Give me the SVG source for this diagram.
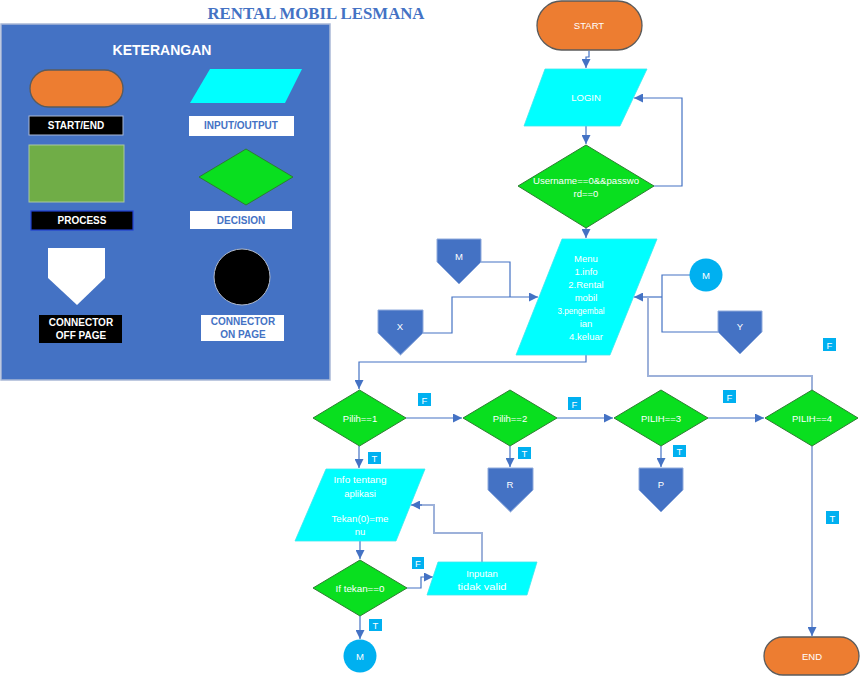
<svg xmlns="http://www.w3.org/2000/svg" width="861" height="676" viewBox="0 0 861 676">
<defs>
<marker id="ah" viewBox="0 0 10 10" refX="10" refY="5" markerWidth="9" markerHeight="9" markerUnits="userSpaceOnUse" orient="auto"><path d="M0,0 L10,5 L0,10 Z" fill="#4472C4"/></marker>
<style>
.t{font-family:"Liberation Sans",Arial,sans-serif;font-size:9.5px;fill:#fff;text-anchor:middle}
.lg{font-family:"Liberation Sans",Arial,sans-serif;font-size:10px;font-weight:bold;text-anchor:middle}
.term{fill:#ED7D31;stroke:#5B5B5B;stroke-width:1.3}
.io{fill:#00FFFF;stroke:#3FE6EE;stroke-width:0.8}
.dec{fill:#09DF1F;stroke:#2E7D32;stroke-width:1}
.off{fill:#4472C4;stroke:#8FAADC;stroke-width:1}
.on{fill:#00B0F0}
.lab{fill:#00B0F0}
.c{fill:none;stroke:#4472C4;stroke-width:1.2}
.cl{fill:none;stroke:#9DB1DA;stroke-width:2}
</style>
</defs>
<rect width="861" height="676" fill="#fff"/>
<text x="316" y="19" font-family="'Liberation Serif','Times New Roman',serif" font-size="16" font-weight="bold" fill="#4472C4" text-anchor="middle" textLength="217" lengthAdjust="spacingAndGlyphs">RENTAL MOBIL LESMANA</text>

<g id="legend">
<rect x="1" y="24" width="329" height="356" fill="#4472C4" stroke="#A9B8D6" stroke-width="1.5"/>
<text x="162" y="55" font-family="'Liberation Sans',Arial,sans-serif" font-size="14" font-weight="bold" fill="#fff" text-anchor="middle">KETERANGAN</text>
<rect x="30" y="70" width="93" height="37" rx="18.5" class="term"/>
<rect x="29" y="116" width="94" height="19" fill="#000" stroke="#A9B8D6" stroke-width="1"/>
<text x="76" y="129" class="lg" fill="#fff">START/END</text>
<polygon points="210,69 302,69 285,103 190,103" fill="#00FFFF"/>
<rect x="189" y="116" width="105" height="20" fill="#fff"/>
<text x="241" y="129" class="lg" fill="#4472C4">INPUT/OUTPUT</text>
<rect x="29" y="145" width="95" height="57" fill="#70AD47" stroke="#A9C8A0" stroke-width="1"/>
<rect x="31" y="211" width="102" height="19" fill="#000" stroke="#2040D0" stroke-width="1.2"/>
<text x="82" y="224" class="lg" fill="#fff">PROCESS</text>
<polygon points="246,149 293,177 246,205 199,177" class="dec"/>
<rect x="190" y="211" width="102" height="18" fill="#fff"/>
<text x="241" y="224" class="lg" fill="#4472C4">DECISION</text>
<path d="M48,248 H105 V278 L77,305 L48,278 Z" fill="#fff"/>
<rect x="39" y="315" width="83" height="28" fill="#000"/>
<text x="81" y="326" class="lg" fill="#fff">CONNECTOR</text>
<text x="81" y="339" class="lg" fill="#fff">OFF PAGE</text>
<circle cx="242" cy="277" r="28" fill="#000" stroke="#B0B8C8" stroke-width="1"/>
<rect x="201" y="315" width="83" height="26" fill="#fff"/>
<text x="243" y="325" class="lg" fill="#4472C4">CONNECTOR</text>
<text x="243" y="338" class="lg" fill="#4472C4">ON PAGE</text>
</g>

<g id="connectors">
<path class="c" d="M589,51 V57 H586 V68" marker-end="url(#ah)"/>
<path class="c" d="M586,126 V144" marker-end="url(#ah)"/>
<path class="c" d="M654,186 H682 V98 H634" marker-end="url(#ah)"/>
<path class="c" d="M586,228 V238" marker-end="url(#ah)"/>
<path class="c" d="M481,262 H510 V297"/>
<path class="c" d="M423,333 H452 V297 H538" marker-end="url(#ah)"/>
<path class="c" d="M690,275 H662 V332 H718"/>
<path class="c" d="M662,297 H634" marker-end="url(#ah)"/>
<path class="cl" d="M812,390 V376 H648 V297"/>
<path class="c" d="M586,355 V362 H359 V389" marker-end="url(#ah)"/>
<path class="c" d="M406,418 H462" marker-end="url(#ah)"/>
<path class="c" d="M557,418 H613" marker-end="url(#ah)"/>
<path class="c" d="M708,418 H764" marker-end="url(#ah)"/>
<path class="c" d="M359,446 V468" marker-end="url(#ah)"/>
<path class="c" d="M510,446 V467" marker-end="url(#ah)"/>
<path class="c" d="M661,446 V467" marker-end="url(#ah)"/>
<path class="cl" d="M812,446 V630"/>
<path class="c" d="M812,628 V636" marker-end="url(#ah)"/>
<path class="c" d="M360,541 V559" marker-end="url(#ah)"/>
<path class="c" d="M407,588 H421 V577 H433" marker-end="url(#ah)"/>
<path class="cl" d="M482,562 V533 H434 V505 H420"/>
<path class="c" d="M422,505 H411" marker-end="url(#ah)"/>
<path class="c" d="M360,616 V639" marker-end="url(#ah)"/>
</g>

<g id="start"><rect x="537" y="1" width="105" height="49" rx="24.5" class="term"/><text x="589" y="29" class="t">START</text></g>
<g id="login"><polygon points="545,69 647,69 620,126 524,126" class="io"/><text x="586" y="101" class="t">LOGIN</text></g>
<g id="cek-login"><polygon points="586,145 654,186 586,228 518,186" class="dec"/><text x="586" y="184" class="t" textLength="106" lengthAdjust="spacingAndGlyphs">Username==0&amp;&amp;passwo</text><text x="586" y="197" class="t">rd==0</text></g>
<g id="menu"><polygon points="562,239 657,239 610,355 516,355" class="io"/>
<text x="586" y="262" class="t">Menu</text><text x="586" y="275" class="t">1.info</text><text x="586" y="288" class="t">2.Rental</text><text x="586" y="301" class="t">mobil</text><text x="581" y="314" class="t" textLength="47" lengthAdjust="spacingAndGlyphs">3.pengembal</text><text x="586" y="327" class="t">ian</text><text x="586" y="340" class="t">4.keluar</text></g>
<g id="off-m"><path d="M437,239 H481 V262 L459,284 L437,262 Z" class="off"/><text x="459" y="260" class="t">M</text></g>
<g id="off-x"><path d="M378,310 H423 V333 L400.5,355 L378,333 Z" class="off"/><text x="400" y="330" class="t">X</text></g>
<g id="on-m-top"><circle cx="706" cy="275" r="16.5" class="on"/><text x="706" y="279" class="t">M</text></g>
<g id="off-y"><path d="M718,311 H762 V332 L740,354 L718,332 Z" class="off"/><text x="740" y="330" class="t">Y</text></g>
<g id="pilih1"><polygon points="359.5,390 406,418 359.5,446 313,418" class="dec"/><text x="360" y="422" class="t">Pilih==1</text></g>
<g id="pilih2"><polygon points="510,390 557,418 510,446 463,418" class="dec"/><text x="510" y="422" class="t">Pilih==2</text></g>
<g id="pilih3"><polygon points="661,390 708,418 661,446 614,418" class="dec"/><text x="661" y="422" class="t">PILIH==3</text></g>
<g id="pilih4"><polygon points="812,390 858,418 812,446 765,418" class="dec"/><text x="812" y="422" class="t">PILIH==4</text></g>
<g id="off-r"><path d="M488,468 H533 V490 L510.5,512 L488,490 Z" class="off"/><text x="510" y="488" class="t">R</text></g>
<g id="off-p"><path d="M639,468 H683 V490 L661,512 L639,490 Z" class="off"/><text x="661" y="488" class="t">P</text></g>
<g id="end"><rect x="764" y="637" width="95" height="38" rx="19" class="term"/><text x="812" y="660" class="t">END</text></g>
<g id="info"><polygon points="326,469 425,469 396,541 295,541" class="io"/>
<text x="360" y="483" class="t" textLength="53" lengthAdjust="spacingAndGlyphs">Info tentang</text><text x="360" y="497" class="t">aplikasi</text><text x="360" y="522" class="t" textLength="57" lengthAdjust="spacingAndGlyphs">Tekan(0)=me</text><text x="360" y="535" class="t">nu</text></g>
<g id="if-tekan"><polygon points="360,560 407,588 360,616 313,588" class="dec"/><text x="360" y="592" class="t" textLength="49" lengthAdjust="spacingAndGlyphs">If tekan==0</text></g>
<g id="invalid"><polygon points="438,562 537,562 527,595 427,595" class="io"/><text x="482" y="577" class="t">Inputan</text><text x="482" y="590" class="t" textLength="49" lengthAdjust="spacingAndGlyphs">tidak valid</text></g>
<g id="on-m-bottom"><circle cx="360" cy="656" r="16.5" class="on"/><text x="360" y="660" class="t">M</text></g>

<g id="labels">
<rect x="418" y="393" width="13" height="13" class="lab"/><text x="424.5" y="403.5" class="t">F</text>
<rect x="568" y="397" width="13" height="13" class="lab"/><text x="574.5" y="407.5" class="t">F</text>
<rect x="723" y="390" width="13" height="13" class="lab"/><text x="729.5" y="400.5" class="t">F</text>
<rect x="823" y="338" width="13" height="13" class="lab"/><text x="829.5" y="348.5" class="t">F</text>
<rect x="368" y="452" width="13" height="12" class="lab"/><text x="374.5" y="462" class="t">T</text>
<rect x="518" y="447" width="13" height="12" class="lab"/><text x="524.5" y="457" class="t">T</text>
<rect x="673" y="445" width="13" height="12" class="lab"/><text x="679.5" y="455" class="t">T</text>
<rect x="826" y="511" width="13" height="13" class="lab"/><text x="832.5" y="521.5" class="t">T</text>
<rect x="412" y="557" width="12" height="12" class="lab"/><text x="418" y="567" class="t">F</text>
<rect x="369" y="619" width="13" height="12" class="lab"/><text x="375.5" y="629" class="t">T</text>
</g>
</svg>
